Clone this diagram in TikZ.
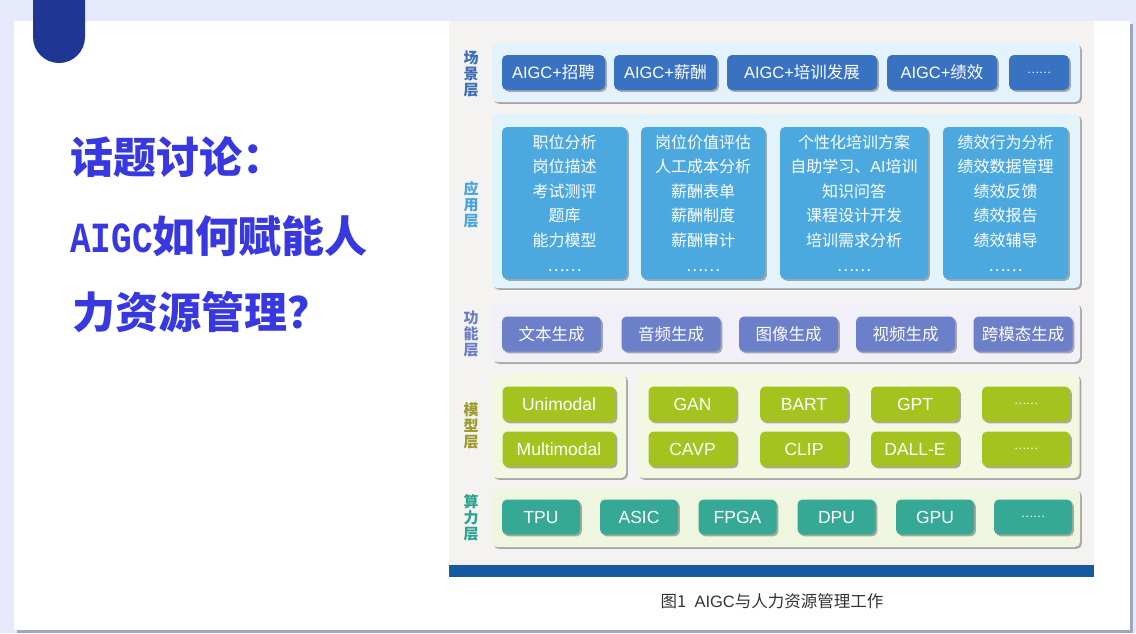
\documentclass[tikz,border=0pt]{standalone}
\usepackage{fontspec}
\setmainfont{Noto Sans CJK SC}
\newfontfamily\titlemono[FakeStretch=0.8]{Liberation Mono}
\newfontfamily\lat{Liberation Sans}
\usetikzlibrary{shadows}
\definecolor{bglav}{HTML}{E7E9FD}
\definecolor{cardshd}{HTML}{A3A5BA}
\definecolor{tabblue}{HTML}{1F3694}
\definecolor{diagbg}{HTML}{F4F3F1}
\definecolor{bandblue}{HTML}{1559A0}
\definecolor{titleblue}{HTML}{3838E0}
\definecolor{scnbox}{HTML}{3A72C2}
\definecolor{scnpan}{HTML}{E4F3FB}
\definecolor{scnlbl}{HTML}{3C6DB5}
\definecolor{appbox}{HTML}{4CA9E0}
\definecolor{apppan}{HTML}{E3F3FB}
\definecolor{applbl}{HTML}{4BA3DB}
\definecolor{funbox}{HTML}{6C7FC9}
\definecolor{funpan}{HTML}{F1EFF8}
\definecolor{funlbl}{HTML}{6B7DC6}
\definecolor{modbox}{HTML}{A5C31E}
\definecolor{modpan}{HTML}{F4F8E2}
\definecolor{modlbl}{HTML}{9E9A2A}
\definecolor{cmpbox}{HTML}{36A996}
\definecolor{cmppan}{HTML}{EEF6E0}
\definecolor{cmplbl}{HTML}{2AA38F}
\definecolor{captxt}{HTML}{333333}
\tikzset{
  shd/.style={drop shadow={shadow xshift=1.8pt,shadow yshift=-1.8pt,opacity=0.45,fill=black!70}},
  panel/.style={shd, rounded corners=5pt, inner sep=0pt},
  boxbase/.style={shd, rounded corners=5pt, inner sep=0pt, text=white},
  box/.style={boxbase, font=\fontsize{16.5}{18}\selectfont, text height=14pt, text depth=2pt},
  latbox/.style={boxbase, font=\lat\fontsize{17.5}{18}\selectfont, text height=12.6pt, text depth=0pt},
  appbx/.style={boxbase, fill=appbox, align=center, font=\fontsize{16}{24.6}\selectfont, minimum height=152pt},
  lbl/.style={font=\bfseries\fontsize{15}{16}\selectfont, align=center, inner sep=0pt},
  ttl/.style={anchor=west, inner sep=0pt, text=titleblue, font=\bfseries\fontsize{43}{50}\selectfont},
  dotbox/.style={boxbase, font=\fontsize{11}{12}\selectfont},
}
\begin{document}
\begin{tikzpicture}[x=1pt,y=-1pt]
\useasboundingbox (0,0) rectangle (1136,633);
\fill[bglav] (0,0) rectangle (1136,633);
\fill[cardshd] (17,24) rectangle (1133,633);
\fill[white] (14,21) rectangle (1130,630);
\fill[tabblue, rounded corners=26pt] (33,-40) rectangle (85,63);
% title
\node[ttl] (t1) at (70,157) {话题讨论：};
\node[ttl] (t2) at (70,236) {{\titlemono\bfseries AIGC}如何赋能人};
\node[ttl] (t3) at (72,312) {力资源管理？};
% diagram background
\fill[diagbg] (449,21) rectangle (1094,565);
\fill[bandblue] (449,565) rectangle (1094,577);
\node[text=captxt, font=\fontsize{16.5}{18}\selectfont, inner sep=0pt] (cap) at (772,601) {图1\enspace{\lat AIGC}与人力资源管理工作};
% panels
\node[panel, fill=scnpan, minimum width=588pt, minimum height=59pt] (P1) at (786,72.5) {};
\node[panel, fill=apppan, minimum width=588pt, minimum height=174pt] (P2) at (786,201) {};
\node[panel, fill=funpan, minimum width=588pt, minimum height=59pt] (P3) at (786,332.5) {};
\node[panel, fill=modpan, minimum width=134pt, minimum height=104pt] (P4a) at (559,426) {};
\node[panel, fill=modpan, minimum width=442pt, minimum height=104pt] (P4b) at (858.5,426) {};
\node[panel, fill=cmppan, minimum width=588pt, minimum height=58pt] (P5) at (786,518) {};
% labels
\node[lbl, text=scnlbl] (L1) at (471,74) {场\\景\\层};
\node[lbl, text=applbl] (L2) at (471,205) {应\\用\\层};
\node[lbl, text=funlbl] (L3) at (471,334) {功\\能\\层};
\node[lbl, text=modlbl] (L4) at (471,426) {模\\型\\层};
\node[lbl, text=cmplbl] (L5) at (471,518) {算\\力\\层};
% scene layer
\tikzset{sb/.style={box, fill=scnbox, minimum height=35pt}}
\node[sb, minimum width=103pt] (s1) at (553.5,72.5) {{\lat AIGC+}招聘};
\node[sb, minimum width=103pt] (s2) at (665.5,72.5) {{\lat AIGC+}薪酬};
\node[sb, minimum width=150pt] (s3) at (802,72.5) {{\lat AIGC+}培训发展};
\node[sb, minimum width=110pt] (s4) at (942,72.5) {{\lat AIGC+}绩效};
\node[dotbox, fill=scnbox, minimum height=35pt, minimum width=60pt] (s5) at (1039,72.5) {……};
% application layer
\node[appbx, minimum width=125pt] (a1) at (564.5,203) {职位分析\\岗位描述\\考试测评\\题库\\能力模型\\……};
\node[appbx, minimum width=124pt] (a2) at (703,203) {岗位价值评估\\人工成本分析\\薪酬表单\\薪酬制度\\薪酬审计\\……};
\node[appbx, minimum width=148pt] (a3) at (854,203) {个性化培训方案\\自助学习、{\lat AI}培训\\知识问答\\课程设计开发\\培训需求分析\\……};
\node[appbx, minimum width=125pt] (a4) at (1005.5,203) {绩效行为分析\\绩效数据管理\\绩效反馈\\绩效报告\\绩效辅导\\……};
% function layer
\tikzset{fb/.style={box, fill=funbox, minimum height=35pt, minimum width=99pt}}
\node[fb] (f1) at (551.5,334) {文本生成};
\node[fb] (f2) at (671,334) {音频生成};
\node[fb] (f3) at (788.5,334) {图像生成};
\node[fb] (f4) at (905.5,334) {视频生成};
\node[fb] (f5) at (1023,334) {跨模态生成};
% model layer
\tikzset{mb/.style={latbox, fill=modbox, minimum height=35pt, minimum width=88pt},
         md/.style={dotbox, fill=modbox, minimum height=35pt, minimum width=88pt}}
\node[mb, minimum width=113pt] (m1) at (559,404) {Unimodal};
\node[mb, minimum width=113pt] (m2) at (559,449) {Multimodal};
\node[mb] (m3) at (692.5,404) {GAN};
\node[mb] (m4) at (804,404) {BART};
\node[mb] (m5) at (915,404) {GPT};
\node[md] (m6) at (1026,404) {……};
\node[mb] (m7) at (692.5,449) {CAVP};
\node[mb] (m8) at (804,449) {CLIP};
\node[mb] (m9) at (915,449) {DALL-E};
\node[md] (m10) at (1026,449) {……};
% compute layer
\tikzset{cb/.style={latbox, fill=cmpbox, minimum height=35pt, minimum width=78pt}}
\node[cb] (c1) at (541,517) {TPU};
\node[cb] (c2) at (639,517) {ASIC};
\node[cb] (c3) at (737.5,517) {FPGA};
\node[cb] (c4) at (836.5,517) {DPU};
\node[cb] (c5) at (935,517) {GPU};
\node[dotbox, fill=cmpbox, minimum height=35pt, minimum width=78pt] (c6) at (1033,517) {……};
\end{tikzpicture}
\end{document}
